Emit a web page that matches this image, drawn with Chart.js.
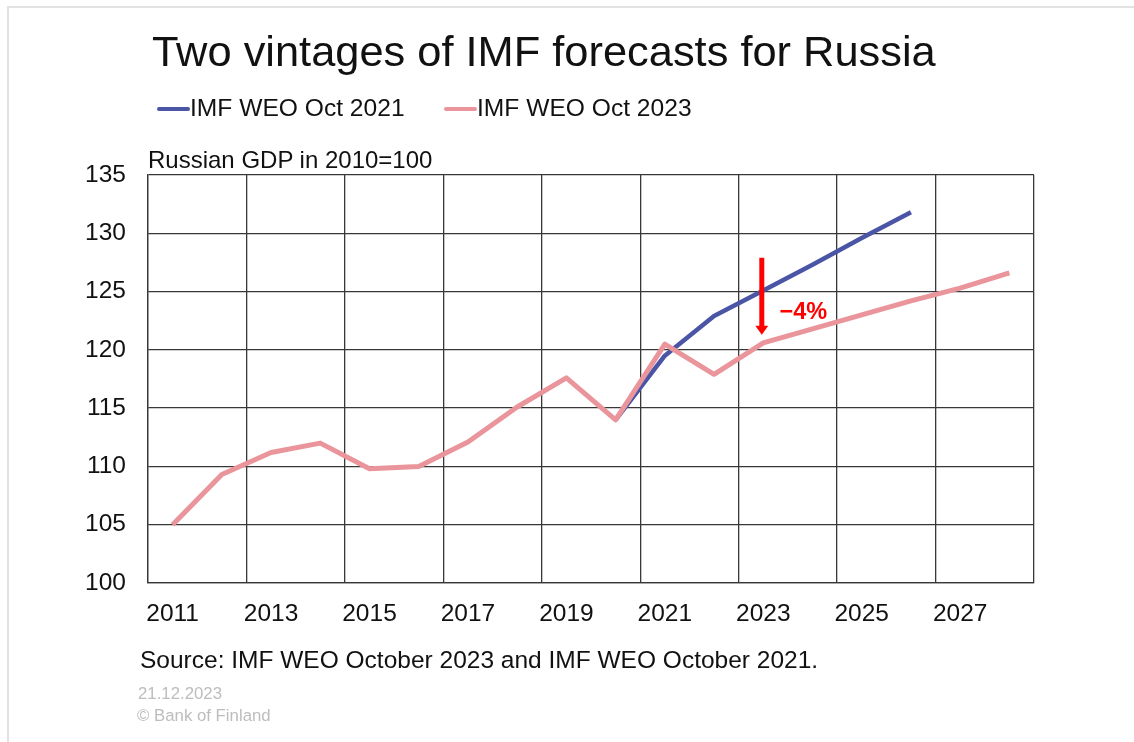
<!DOCTYPE html>
<html>
<head>
<meta charset="utf-8">
<script src="https://cdn.jsdelivr.net/npm/chart.js@4"></script>
<style>
  html, body { margin: 0; padding: 0; background: #fff; }
  body { width: 1134px; height: 742px; position: relative; overflow: hidden; font-family: "Liberation Sans", Arial, sans-serif; color: #111; }
  #frame { position: absolute; left: 7px; top: 6px; right: -10px; bottom: -10px; border-left: 2px solid #e2e2e2; border-top: 2px solid #e2e2e2; }
  .t { position: absolute; white-space: nowrap; line-height: 1; }
  #title { left: 152px; top: 30px; font-size: 43.4px; }
  #legend { position: absolute; left: 157px; top: 96px; font-size: 24.6px; line-height: 1; white-space: nowrap; }
  .li { position: absolute; top: 0; }
  .sw { position: absolute; top: 11px; width: 33px; height: 4px; border-radius: 2px; }
  .lt { position: absolute; left: 33px; top: 0; }
  #ytitle { left: 148px; top: 148px; font-size: 24px; }
  #source { left: 140px; top: 648px; font-size: 24.5px; }
  #date { left: 138px; top: 686px; font-size: 16.8px; color: #bdbdbd; }
  #copy { left: 137px; top: 708px; font-size: 16.8px; color: #bdbdbd; }
  #wrap { position: absolute; left: 0; top: 0; width: 1134px; height: 742px; }
</style>
</head>
<body>
<div id="frame"></div>
<div id="wrap"><canvas id="c"></canvas></div>
<div class="t" id="title">Two vintages of IMF forecasts for Russia</div>
<div id="legend"></div>
<div class="t" id="ytitle">Russian GDP in 2010=100</div>
<div class="t" id="source">Source: IMF WEO October 2023 and IMF WEO October 2021.</div>
<div class="t" id="date">21.12.2023</div>
<div class="t" id="copy">© Bank of Finland</div>
<script>
// ---- data ----
const years = [2011, 2012, 2013, 2014, 2015, 2016, 2017, 2018, 2019, 2020, 2021, 2022, 2023, 2024, 2025, 2026, 2027, 2028];
const weoOct2021 = [null, null, null, null, null, null, null, null, null, 114.0, 119.5, 122.9, 125.1, 127.3, 129.6, 131.8, null, null];
const weoOct2023 = [105.0, 109.3, 111.2, 112.0, 109.8, 110.0, 112.1, 115.1, 117.6, 114.0, 120.5, 117.9, 120.6, 121.8, 123.0, 124.2, 125.3, 126.6];
const yTicks = [100, 105, 110, 115, 120, 125, 130, 135];
const seriesNames = ['IMF WEO Oct 2021', 'IMF WEO Oct 2023'];
// annotation: arrow at 2023 from 127.9 down to 121.3, label "−4%"
const arrowYear = 2023;
const arrowFrom = 127.9;
const arrowTo = 121.3;
const arrowLabel = '\u22124%';
const arrowLabelYear = 2023.33;
const arrowLabelValue = 123.2;

const BLUE = '#4b55a5';
const PINK = '#e9959b';
const GRID = '#383838';
const FONT = '"Liberation Sans", Arial, sans-serif';

const arrowPlugin = {
  id: 'arrowNote',
  afterDatasetsDraw(chart) {
    const xs = chart.scales.x, ys = chart.scales.y;
    const idx = years.indexOf(arrowYear);
    const x = xs.getPixelForValue(idx - 0.03);
    const y0 = ys.getPixelForValue(arrowFrom);
    const y1 = ys.getPixelForValue(arrowTo);
    const ctx = chart.ctx;
    ctx.save();
    ctx.strokeStyle = '#ff0000';
    ctx.fillStyle = '#ff0000';
    ctx.lineWidth = 5;
    ctx.beginPath();
    ctx.moveTo(x, y0);
    ctx.lineTo(x, y1 - 8);
    ctx.stroke();
    ctx.beginPath();
    ctx.moveTo(x - 6.5, y1 - 9);
    ctx.lineTo(x + 6.5, y1 - 9);
    ctx.lineTo(x, y1);
    ctx.closePath();
    ctx.fill();
    const lx = xs.getPixelForValue(years.indexOf(2023) + (arrowLabelYear - 2023));
    const ly = ys.getPixelForValue(arrowLabelValue);
    ctx.font = 'bold 23.5px ' + FONT;
    ctx.textAlign = 'left';
    ctx.textBaseline = 'middle';
    ctx.fillText(arrowLabel, lx, ly);
    ctx.restore();
  }
};

const chart = new Chart(document.getElementById('c'), {
  type: 'line',
  data: {
    labels: years.map(String),
    datasets: [
      { label: seriesNames[0], data: weoOct2021, borderColor: BLUE, backgroundColor: BLUE, borderWidth: 4.5, order: 1 },
      { label: seriesNames[1], data: weoOct2023, borderColor: PINK, backgroundColor: PINK, borderWidth: 5, order: 0 }
    ]
  },
  options: {
    responsive: true,
    maintainAspectRatio: false,
    animation: false,
    devicePixelRatio: 1,
    layout: { padding: { top: 175, right: 100, bottom: 109, left: 0 } },
    elements: {
      point: { radius: 0, hoverRadius: 0 },
      line: { tension: 0, borderJoinStyle: 'round', borderCapStyle: 'butt' }
    },
    plugins: { legend: { display: false }, title: { display: false }, tooltip: { enabled: false } },
    scales: {
      x: {
        type: 'category',
        offset: true,
        grid: {
          offset: true,
          drawTicks: false,
          lineWidth: 1.3,
          color: (c) => (c.index === undefined || c.index % 2 === 0) ? GRID : 'rgba(0,0,0,0)'
        },
        border: { display: true, color: GRID, width: 1.3 },
        ticks: {
          autoSkip: false, maxRotation: 0, padding: 17,
          color: '#111',
          font: { family: FONT, size: 24.5 },
          callback: function (v, i) { return i % 2 === 0 ? this.getLabelForValue(v) : ''; }
        },
        afterFit: (s) => { s.height = 50; }
      },
      y: {
        min: 100, max: 135,
        afterBuildTicks: (s) => { s.ticks = yTicks.map(v => ({ value: v })); },
        grid: { drawTicks: false, lineWidth: 1.3, color: GRID },
        border: { display: true, color: GRID, width: 1.3 },
        ticks: { padding: 22, color: '#111', font: { family: FONT, size: 24.5 } },
        afterFit: (s) => { s.width = 148; }
      }
    }
  },
  plugins: [arrowPlugin]
});

// HTML legend from the chart's datasets
const lg = document.getElementById('legend');
const legendX = [0, 287];
chart.data.datasets.forEach((ds, i) => {
  const item = document.createElement('div');
  item.className = 'li';
  item.style.left = legendX[i] + 'px';
  const sw = document.createElement('div');
  sw.className = 'sw';
  sw.style.background = ds.borderColor;
  const tx = document.createElement('div');
  tx.className = 'lt';
  tx.textContent = ds.label;
  item.appendChild(sw);
  item.appendChild(tx);
  lg.appendChild(item);
});
</script>
</body>
</html>
